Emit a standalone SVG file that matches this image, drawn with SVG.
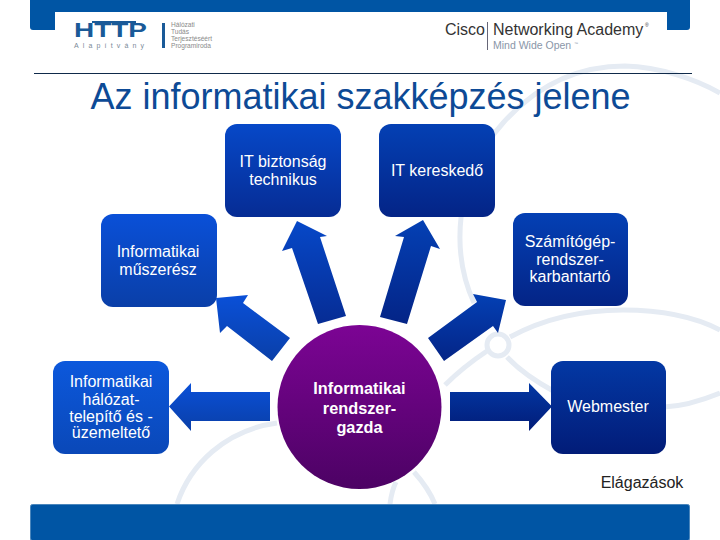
<svg xmlns="http://www.w3.org/2000/svg" width="720" height="540" viewBox="0 0 720 540">
<style>
text{font-family:"Liberation Sans",Arial,sans-serif}
.l{font-size:16px;fill:#fff;text-anchor:middle}
.b{font-size:16.300px;fill:#fff;text-anchor:middle;font-weight:bold}
.arc{fill:none;stroke:#e5ebf3;stroke-width:5}
</style>
<defs>
<linearGradient id="g1" x1="0" y1="0" x2="0" y2="1"><stop offset="0" stop-color="#0a50d8"/><stop offset="1" stop-color="#0a3fa8"/></linearGradient>
<linearGradient id="g2" x1="0" y1="0" x2="0" y2="1"><stop offset="0" stop-color="#0648c8"/><stop offset="1" stop-color="#062c94"/></linearGradient>
<linearGradient id="g3" x1="0" y1="0" x2="0" y2="1"><stop offset="0" stop-color="#0440b4"/><stop offset="1" stop-color="#042486"/></linearGradient>
<linearGradient id="g4" x1="0" y1="0" x2="0" y2="1"><stop offset="0" stop-color="#0338a4"/><stop offset="1" stop-color="#021c78"/></linearGradient>
<linearGradient id="g0" x1="0" y1="0" x2="0" y2="1"><stop offset="0" stop-color="#0c58dc"/><stop offset="1" stop-color="#0a48b8"/></linearGradient>
<linearGradient id="gc" x1="0" y1="0" x2="0" y2="1"><stop offset="0" stop-color="#7c0494"/><stop offset="1" stop-color="#4c0264"/></linearGradient>
</defs>
<g id="background">
<path class="arc" d="M474 303C452 255 452 180 503 123C545 76 590 66 625 66C660 67 695 79 720 93"/>
<path class="arc" d="M510 337C545 318 585 310 623 310C660 310 695 317 720 330"/>
<path class="arc" d="M507 357C520 371 535 381 555 392"/>
<path class="arc" d="M664 407C685 406 703 400 720 393"/>
<path class="arc" d="M487 351C472 361 458 372 445 385"/>
<circle class="arc" cx="498" cy="345" r="11"/>
<path class="arc" d="M177 504C190 465 225 430 277 423"/>
<path class="arc" d="M390 504C391 496 392 490 396 482"/>
<path class="arc" d="M414 472C423 482 430 492 435 504"/>
<path d="M30 0H690V27Q690 30 687 30H667V12H55V30H33Q30 30 30 27Z" fill="#0055a4"/>
<rect x="30.500" y="504.500" width="659" height="36" rx="2" fill="#0055a4" stroke="#4a86bc"/>
<path d="M34 73.500H692" stroke="#0f2a4a" stroke-width="1"/>
</g>
<g id="logo-http">
<text x="74" y="37" font-size="20.500" font-weight="bold" fill="#1a5a98" textLength="73" lengthAdjust="spacingAndGlyphs">HTTP</text>
<rect x="92" y="21" width="44" height="2" fill="#1a5a98"/>
<text x="74" y="47.800" font-size="7" fill="#7a8a98" textLength="70">Alapítvány</text>
<rect x="162" y="23" width="3" height="25" fill="#1a5a98"/>
<g font-size="6.600" fill="#8a8a8a"><text x="171" y="27">Hálózati</text><text x="171" y="33.500">Tudás</text><text x="171" y="40.500">Terjesztéséért</text><text x="171" y="47.500">Programiroda</text></g>
</g>
<g id="logo-cisco">
<text x="445" y="35" font-size="16" fill="#333">Cisco</text>
<rect x="487" y="22" width="1" height="28" fill="#667"/>
<text x="493" y="35" font-size="16" fill="#333">Networking Academy</text>
<text x="645" y="27" font-size="5" fill="#333">®</text>
<text x="493" y="49" font-size="10.500" fill="#8a96a8">Mind Wide Open</text>
<text x="574" y="45" font-size="4" fill="#8a96a8">™</text>
</g>
<text id="title" x="360.500" y="109" font-size="36" fill="#0d4a96" text-anchor="middle">Az informatikai szakképzés jelene</text>
<g id="connectors">
<path fill="url(#g1)" d="M169 406.500L191 383V392H270V421H191V431Z"/>
<path fill="url(#g1)" d="M216 298L248 295L243 303L290 338L272 361L227 326L220 333Z"/>
<path fill="url(#g2)" d="M297 221L327 236L320 237L346 316L318 324L292 248L282 251Z"/>
<path fill="url(#g3)" d="M423 220L440 249L431 246L407 324L380 317L404 237L395 236Z"/>
<path fill="url(#g3)" d="M506 300L498 333L493 326L444 361L428 338L477 302L473 294Z"/>
<path fill="url(#g4)" d="M552 406.500L529 383V392H450V421H529V431Z"/>
</g>
<g id="node-biztonsag"><rect x="225" y="124" width="116" height="93" rx="12" fill="url(#g2)"/><text class="l" x="283" y="167">IT biztonság</text><text class="l" x="283" y="185">technikus</text></g>
<g id="node-kereskedo"><rect x="379" y="124" width="116" height="93" rx="12" fill="url(#g3)"/><text class="l" x="437" y="176">IT kereskedő</text></g>
<g id="node-muszeresz"><rect x="101" y="214" width="116" height="93" rx="12" fill="url(#g1)"/><text class="l" x="158" y="257">Informatikai</text><text class="l" x="158" y="275">műszerész</text></g>
<g id="node-szamitogep"><rect x="513" y="213" width="115" height="93" rx="12" fill="url(#g3)"/><text class="l" x="570" y="247">Számítógép-</text><text class="l" x="570" y="265">rendszer-</text><text class="l" x="570" y="282">karbantartó</text></g>
<g id="node-halozat"><rect x="53" y="361" width="116" height="93" rx="12" fill="url(#g0)"/><text class="l" x="111" y="387">Informatikai</text><text class="l" x="111" y="405">hálózat-</text><text class="l" x="111" y="422">telepítő és -</text><text class="l" x="111" y="438">üzemeltető</text></g>
<g id="node-rendszergazda"><circle cx="359.500" cy="407" r="82" fill="url(#gc)"/><text class="b" x="359.500" y="394">Informatikai</text><text class="b" x="359.500" y="414">rendszer-</text><text class="b" x="359.500" y="433">gazda</text></g>
<g id="node-webmester"><rect x="551" y="361" width="115" height="93" rx="12" fill="url(#g4)"/><text class="l" x="608" y="412">Webmester</text></g>
<text id="note" x="642" y="488" font-size="16" fill="#222" text-anchor="middle">Elágazások</text>
</svg>
